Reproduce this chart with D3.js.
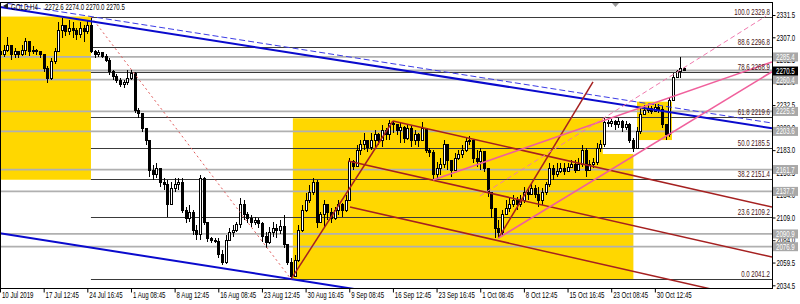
<!DOCTYPE html>
<html>
<head>
<meta charset="utf-8">
<script src="https://cdn.jsdelivr.net/npm/d3@7"></script>
<style>
  body { margin: 0; background: #fff; }
  svg text { font-family: "Liberation Sans", Arial, sans-serif; font-size: 8.5px; }
</style>
</head>
<body>
<svg id="chart" width="800" height="304"></svg>
<script>
// 1: DATA
const symbolName = "GOLD,H4";
const lastQuote = "2272.6 2274.0 2270.0 2270.5";

const timeLabels = ["10 Jul 2019", "17 Jul 12:45", "24 Jul 16:45", "1 Aug 08:45", "8 Aug 12:45",
    "16 Aug 08:45", "23 Aug 12:45", "30 Aug 16:45", "9 Sep 08:45", "16 Sep 12:45", "23 Sep 16:45",
    "1 Oct 08:45", "8 Oct 12:45", "15 Oct 16:45", "23 Oct 08:45", "30 Oct 12:45"];
const labelBars = [0, 12, 24, 36, 48, 60, 72, 84, 96, 108, 120, 132, 144, 156, 168, 180];

const axisPrices = [2331.5, 2307.0, 2282.5, 2258.0, 2232.5, 2208.0, 2183.0, 2158.5, 2134.0, 2109.0, 2084.0, 2059.5, 2034.5];

const firstOpen = 2291;
const closes = [
    2288, 2293, 2298, 2288, 2291, 2288, 2293, 2302, 2291, 2293,
    2291, 2288, 2273, 2262, 2280, 2291, 2315, 2320, 2313, 2317,
    2315, 2310, 2317, 2313, 2320, 2291, 2288, 2290, 2286, 2282,
    2269, 2264, 2260, 2255, 2257, 2262, 2267, 2227, 2223, 2207,
    2194, 2161, 2156, 2163, 2148, 2145, 2123, 2141, 2145, 2147,
    2117, 2108, 2115, 2095, 2090, 2152, 2104, 2086, 2084, 2083,
    2068, 2060, 2084, 2092, 2095, 2101, 2123, 2112, 2108, 2104,
    2106, 2102, 2088, 2082, 2093, 2097, 2095, 2099, 2079, 2060,
    2044, 2062, 2095, 2117, 2128, 2137, 2148, 2104, 2112, 2123,
    2115, 2108, 2117, 2123, 2117, 2128, 2170, 2165, 2183, 2189,
    2194, 2186, 2194, 2200, 2194, 2205, 2200, 2212, 2211, 2205,
    2208, 2196, 2207, 2194, 2200, 2194, 2207, 2183, 2180, 2156,
    2163, 2167, 2189, 2172, 2161, 2174, 2178, 2183, 2192, 2194,
    2174, 2170, 2181, 2163, 2137, 2119, 2097, 2092, 2112, 2119,
    2123, 2128, 2123, 2128, 2137, 2134, 2141, 2134, 2128, 2136,
    2145, 2163, 2156, 2159, 2163, 2159, 2164, 2167, 2161, 2167,
    2183, 2161, 2167, 2169, 2185, 2189, 2213, 2212, 2214, 2211,
    2214, 2208, 2211, 2194, 2185, 2203, 2222, 2227, 2229, 2226,
    2230, 2228, 2211, 2200, 2238, 2263, 2269, 2272.6, 2270.5
];
const highs = [
    2295, 2298, 2307, 2296, 2295, 2291, 2298, 2306, 2295, 2297,
    2294, 2292, 2288, 2275, 2284, 2295, 2324, 2328, 2320, 2326,
    2324, 2317, 2324, 2320, 2326, 2329.8, 2293, 2293, 2291, 2289,
    2284, 2271, 2267, 2262, 2260, 2271, 2271, 2269, 2229, 2223,
    2205, 2183, 2167, 2169, 2161, 2152, 2150, 2148, 2152, 2152,
    2152, 2120, 2123, 2117, 2101, 2156, 2154, 2104, 2088, 2086,
    2086, 2073, 2090, 2097, 2101, 2104, 2130, 2128, 2115, 2112,
    2110, 2108, 2104, 2093, 2099, 2104, 2102, 2106, 2112, 2079,
    2064, 2068, 2101, 2123, 2136, 2145, 2152, 2150, 2115, 2128,
    2123, 2119, 2121, 2128, 2125, 2134, 2174, 2172, 2189, 2194,
    2202, 2194, 2202, 2205, 2202, 2211, 2207, 2216, 2215, 2212,
    2214, 2209, 2211, 2209, 2205, 2202, 2214, 2207, 2185, 2183,
    2170, 2174, 2194, 2183, 2172, 2180, 2183, 2189, 2196, 2198,
    2194, 2183, 2185, 2181, 2163, 2134, 2115, 2106, 2117, 2128,
    2131, 2134, 2131, 2134, 2142, 2141, 2147, 2145, 2142, 2141,
    2148, 2169, 2167, 2169, 2169, 2169, 2169, 2172, 2172, 2174,
    2189, 2185, 2172, 2174, 2191, 2194, 2218, 2216, 2217, 2216,
    2218, 2216, 2215, 2213, 2196, 2208, 2230, 2233, 2233, 2231,
    2234, 2234, 2231, 2211, 2241, 2268, 2271, 2285.4, 2274
];
const lows = [
    2284, 2285, 2291, 2282, 2284, 2284, 2286, 2288, 2286, 2289,
    2288, 2284, 2269, 2257, 2260, 2278, 2291, 2306, 2308, 2310,
    2306, 2304, 2306, 2302, 2311, 2290, 2284, 2285, 2284, 2280,
    2266, 2260, 2257, 2252, 2251, 2255, 2260, 2224, 2218, 2203,
    2189, 2153, 2150, 2152, 2142, 2139, 2109, 2123, 2137, 2139,
    2114, 2103, 2104, 2090, 2084, 2084, 2101, 2082, 2081, 2081,
    2064, 2057, 2058, 2084, 2088, 2093, 2097, 2106, 2103, 2099,
    2101, 2097, 2082, 2076, 2080, 2088, 2086, 2091, 2076, 2057,
    2041.2, 2049, 2060, 2093, 2115, 2125, 2134, 2098, 2104, 2098,
    2106, 2103, 2106, 2112, 2109, 2115, 2128, 2161, 2169, 2178,
    2183, 2181, 2183, 2186, 2189, 2186, 2194, 2194, 2202, 2200,
    2191, 2191, 2194, 2186, 2189, 2186, 2194, 2180, 2175, 2150,
    2152, 2156, 2163, 2161, 2153, 2167, 2172, 2174, 2181, 2189,
    2169, 2164, 2161, 2159, 2131, 2108, 2087, 2086, 2090, 2112,
    2115, 2120, 2117, 2120, 2125, 2128, 2134, 2130, 2120, 2123,
    2134, 2142, 2150, 2154, 2158, 2156, 2159, 2163, 2158, 2161,
    2164, 2153, 2161, 2163, 2167, 2181, 2187, 2208, 2208, 2205,
    2207, 2203, 2205, 2191, 2181, 2185, 2201, 2222, 2224, 2223,
    2225, 2224, 2207, 2194, 2197, 2238, 2262, 2262, 2270
];

// horizontal levels (grey lines with labels on the price scale)
const levelPrices = [2285.4, 2260.4, 2225.5, 2203.6, 2161.7, 2137.7, 2090.9, 2076.9];
const bidPrice = 2270.5;

// fibonacci retracement, drawn from bar 25 (high) to bar 80 (low)
const fibStartBar = 25;
const fibRatios = [100.0, 88.6, 78.6, 61.8, 50.0, 38.2, 23.6, 0.0];
const fibPrices = [2329.8, 2296.8, 2268.9, 2219.6, 2185.5, 2151.4, 2109.2, 2041.2];

// zones: [bar from, bar to, price top, price bottom]
const yellowZones = [
    [-1, 25.0, 2329.8, 2150.5],
    [80.5, 174.1, 2218.0, 2040.3],
    [175.1, 184.7, 2236.2, 2194.1]
];
const clearedZone = [165.7, 174.3, 2218.3, 2178.8];

// trend objects: [[bar, price], [bar, price]]
const blueChannel = [[[0, 2340.3], [212.2, 2207.0]], [[0, 2091.6], [212.2, 1958.3]]];
const blueDashed = [[2.2, 2344.1], [212.2, 2212.8]];
const fibDiagonal = [[25, 2329.8], [80, 2041.2]];
const forkLines = [
    [[80, 2041.2], [108, 2215.0]],
    [[108, 2215.0], [212.2, 2120.5]],
    [[95.7, 2171.1], [212.2, 2065.6]],
    [[96.2, 2120.5], [212.2, 2015.2]],
    [[137, 2086.4], [163.0, 2257.9]]
];
const pinkLines = [
    [[119.0, 2150.2], [212.2, 2279.9]],
    [[137, 2086.4], [212.2, 2269.2]]
];
const pinkDashed = [[131.9, 2132.6], [210.6, 2330.4]];

// 2: SETUP
const plotRight = 772, plotTop = 2, plotBottom = 288;
const sx = 0.72;

const svg = d3.select("#chart");

const x = d3.scaleLinear().domain([0, 212.2]).range([0, plotRight]);
const y = d3.scaleLinear().domain([2331.5, 2034.5]).range([15, 285.3]);

svg.append("defs").append("clipPath").attr("id", "plot")
    .append("rect")
    .attr("x", 0).attr("y", plotTop)
    .attr("width", plotRight).attr("height", plotBottom - plotTop);

const plot = svg.append("g").attr("clip-path", "url(#plot)");

function addText(g, px, py, str, anchor, fill) {
    return g.append("text")
        .attr("transform", `translate(${px},${py}) scale(${sx},1)`)
        .attr("text-anchor", anchor || "start")
        .attr("fill", fill || "#000")
        .text(str);
}

function segment(g, pts, color, width, dash) {
    g.append("line")
        .attr("x1", x(pts[0][0])).attr("y1", y(pts[0][1]))
        .attr("x2", x(pts[1][0])).attr("y2", y(pts[1][1]))
        .attr("stroke", color)
        .attr("stroke-width", width)
        .attr("stroke-dasharray", dash || null);
}

// 3: ZONES
plot.selectAll(".zone")
    .data(yellowZones)
    .enter()
    .append("rect")
    .attr("x", d => x(d[0]))
    .attr("y", d => y(d[2]))
    .attr("width", d => x(d[1]) - x(d[0]))
    .attr("height", d => y(d[3]) - y(d[2]))
    .attr("fill", "#ffd700");

plot.append("rect")
    .attr("x", x(clearedZone[0]))
    .attr("y", y(clearedZone[2]))
    .attr("width", x(clearedZone[1]) - x(clearedZone[0]))
    .attr("height", y(clearedZone[3]) - y(clearedZone[2]))
    .attr("fill", "#fff");

// 4: HORIZONTAL LEVELS
plot.selectAll(".level")
    .data(levelPrices.concat([bidPrice]))
    .enter()
    .append("line")
    .attr("x1", 0).attr("x2", plotRight)
    .attr("y1", d => y(d)).attr("y2", d => y(d))
    .attr("stroke", "#b0b0b0")
    .attr("stroke-width", 1.8);

plot.selectAll(".fib")
    .data(fibPrices)
    .enter()
    .append("line")
    .attr("x1", x(fibStartBar)).attr("x2", plotRight)
    .attr("y1", d => Math.round(y(d)) + 0.5).attr("y2", d => Math.round(y(d)) + 0.5)
    .attr("stroke", "#3a3a3a")
    .attr("stroke-width", 1);

// 5: CANDLES
const bars = closes.map((c, i) => {
    const o = i === 0 ? firstOpen : closes[i - 1];
    return { i, o, c, h: Math.max(highs[i], o, c), l: Math.min(lows[i], o, c) };
});

const candle = plot.selectAll(".bar")
    .data(bars)
    .enter()
    .append("g")
    .attr("shape-rendering", "crispEdges");

candle.append("line")
    .attr("x1", d => Math.round(x(d.i)) + 0.5)
    .attr("x2", d => Math.round(x(d.i)) + 0.5)
    .attr("y1", d => y(d.h))
    .attr("y2", d => y(d.l))
    .attr("stroke", "#000");

candle.append("rect")
    .attr("x", d => Math.round(x(d.i)) - 0.5)
    .attr("y", d => y(Math.max(d.o, d.c)))
    .attr("width", 2)
    .attr("height", d => Math.max(1, Math.abs(y(d.o) - y(d.c))))
    .attr("fill", d => d.c >= d.o ? "#fff" : "#000")
    .attr("stroke", "#000")
    .attr("stroke-width", 1);

// 6: TREND OBJECTS
segment(plot, fibDiagonal, "#e05a5a", 1, "2,3");
blueChannel.forEach(l => segment(plot, l, "#0a0acd", 2));
segment(plot, blueDashed, "#3c3ce6", 1, "6,3");
forkLines.forEach(l => segment(plot, l, "#a52020", 1.5));
pinkLines.forEach(l => segment(plot, l, "#f0609c", 1.6));
segment(plot, pinkDashed, "#f07aae", 1, "5,3");

// fib labels
fibPrices.forEach((p, k) => {
    addText(svg, 770, y(p) - 2, `${fibRatios[k].toFixed(1)} ${p.toFixed(1)}`, "end", "#4a1414");
});

// 7: FRAME AND AXES
svg.append("rect")
    .attr("x", 0.5).attr("y", plotTop + 0.5)
    .attr("width", plotRight).attr("height", plotBottom - plotTop)
    .attr("fill", "none")
    .attr("stroke", "#000")
    .attr("shape-rendering", "crispEdges");

const xAxis = svg.append("g")
    .attr("transform", `translate(0,${plotBottom + 0.5})`)
    .call(d3.axisBottom(x).tickValues(labelBars).tickSize(4).tickFormat((d, i) => timeLabels[i]));
xAxis.select(".domain").remove();
xAxis.selectAll("text")
    .attr("x", 2)
    .attr("y", 3.5)
    .attr("text-anchor", "start")
    .attr("font-size", null)
    .attr("transform", `scale(${sx},1)`);

const yAxis = svg.append("g")
    .attr("transform", `translate(${plotRight + 0.5},0)`)
    .call(d3.axisRight(y).tickValues(axisPrices).tickSize(3).tickFormat(d3.format(".1f")));
yAxis.select(".domain").remove();
yAxis.selectAll("text")
    .attr("x", 5.5)
    .attr("font-size", null)
    .attr("transform", `scale(${sx},1)`);
svg.selectAll(".tick line").attr("stroke", "#000");
svg.selectAll(".tick text").attr("fill", "#000").attr("font-family", null);

// price boxes on the scale
levelPrices.forEach(p => {
    svg.append("rect")
        .attr("x", plotRight + 1).attr("y", y(p) - 4.5)
        .attr("width", 25).attr("height", 9)
        .attr("fill", "#a8a8a8");
    addText(svg, plotRight + 4, y(p) + 3, p.toFixed(1), "start", "#fff");
});
svg.append("rect")
    .attr("x", plotRight + 1).attr("y", y(bidPrice) - 4)
    .attr("width", 25).attr("height", 9)
    .attr("fill", "#000");
addText(svg, plotRight + 4, y(bidPrice) + 3.5, bidPrice.toFixed(1), "start", "#fff");

// 8: TITLE AND MARKERS
svg.append("path")
    .attr("d", "M3,6 L8,3 L8,9 Z")
    .attr("fill", "#222");
addText(svg, 11, 10, symbolName, "start", "#000");
addText(svg, 45, 10, lastQuote, "start", "#000");

svg.append("path")
    .attr("d", "M612,3 L619,3 L615.5,7 Z")
    .attr("fill", "#999");
</script>
</body>
</html>
